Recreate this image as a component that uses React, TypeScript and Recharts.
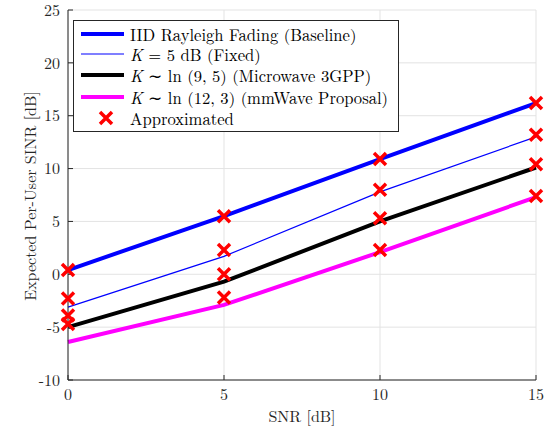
import React from 'react';
import { ComposedChart, Line, XAxis, YAxis, CartesianGrid } from 'recharts';

// SNR points (dB)
const snr = [0, 5, 10, 15];

// simulated curves
const iidRayleigh = [0.4, 5.5, 10.9, 16.2];
const kFixed = [-3.1, 1.7, 7.8, 13.0];
const kMicrowave = [-5.0, -0.7, 5.0, 10.1];
const kMmWave = [-6.4, -2.9, 2.1, 7.3];

// approximation markers
const iidApprox = [0.4, 5.5, 10.9, 16.2];
const fixedApprox = [-2.3, 2.3, 8.0, 13.2];
const microApprox = [-3.9, 0.0, 5.3, 10.4];
const mmWaveApprox = [-4.7, -2.2, 2.3, 7.4];

const xTicks = [0, 5, 10, 15];
const yTicks = [-10, -5, 0, 5, 10, 15, 20, 25];

const data = snr.map((s, i) => ({
  snr: s,
  iid: iidRayleigh[i],
  fixed: kFixed[i],
  micro: kMicrowave[i],
  mmw: kMmWave[i],
  iidA: iidApprox[i],
  fixedA: fixedApprox[i],
  microA: microApprox[i],
  mmwA: mmWaveApprox[i],
}));

const FONT = '"Latin Modern Roman", "Liberation Serif", serif';
const AXIS = '#262626';

const Cross = (props: any) => {
  const { cx, cy, index, dataKey } = props;
  if (cx == null || cy == null) return null;
  const r = 6;
  return (
    <path
      key={`${dataKey}-${index}`}
      d={`M${cx - r},${cy - r}L${cx + r},${cy + r}M${cx - r},${cy + r}L${cx + r},${cy - r}`}
      stroke="#ff0000"
      strokeWidth={3.5}
      fill="none"
    />
  );
};

const K = () => <i>K</i>;
const Sim = () => <span style={{ fontFamily: '"Liberation Serif", serif' }}>∼</span>;

const legendRows = [
  { y: 12.7, kind: 'line', color: '#0000ff', w: 4, label: <>IID Rayleigh Fading (Baseline)</> },
  { y: 33.3, kind: 'line', color: '#0000ff', w: 1.2, label: <><K /> = 5 dB (Fixed)</> },
  { y: 54, kind: 'line', color: '#000000', w: 4, label: <><K /> <Sim /> ln (9, 5) (Microwave 3GPP)</> },
  { y: 76, kind: 'line', color: '#ff00ff', w: 4, label: <><K /> <Sim /> ln (12, 3) (mmWave Proposal)</> },
  { y: 97, kind: 'cross', color: '#ff0000', w: 3.5, label: <>Approximated</> },
];

const ChartLegend = () => (
  <div
    style={{
      position: 'absolute',
      left: 73,
      top: 20,
      width: 326,
      height: 112,
      boxSizing: 'border-box',
      border: `1px solid ${AXIS}`,
      background: '#fff',
      fontFamily: FONT,
      fontSize: 16.6,
      color: '#000',
    }}
  >
    {legendRows.map((r, i) => (
      <div key={i} style={{ position: 'absolute', left: 0, top: r.y - 11, height: 22, width: '100%' }}>
        <svg width={52} height={22} style={{ position: 'absolute', left: 0, top: 0 }}>
          {r.kind === 'line' ? (
            <line x1={7} x2={50} y1={11} y2={11} stroke={r.color} strokeWidth={r.w} />
          ) : (
            <path d="M26,5L38,17M26,17L38,5" stroke={r.color} strokeWidth={r.w} fill="none" />
          )}
        </svg>
        <span style={{ position: 'absolute', left: 56, top: 0, lineHeight: '22px', whiteSpace: 'nowrap' }}>{r.label}</span>
      </div>
    ))}
  </div>
);

const tickStyle = { fontFamily: FONT, fontSize: 16, fill: AXIS };

export default function App() {
  return (
    <div style={{ position: 'absolute', left: 0, top: 0, width: 552, height: 428, background: '#fff' }}>
      <ComposedChart width={552} height={428} data={data} margin={{ top: 10, right: 16, bottom: 0, left: 0 }}>
        <CartesianGrid stroke="#e3e3e3" strokeWidth={1} />
        <XAxis
          dataKey="snr"
          type="number"
          domain={[0, 15]}
          ticks={xTicks}
          height={48}
          stroke={AXIS}
          tickSize={-5}
          tickMargin={14}
          tick={tickStyle}
          label={{
            content: () => (
              <text x={302} y={415} textAnchor="middle" dominantBaseline="central" style={{ fontFamily: FONT, fontSize: 16, fill: AXIS }}>
                SNR [dB]
              </text>
            ),
          }}
        />
        <XAxis xAxisId="top" orientation="top" type="number" domain={[0, 15]} ticks={xTicks} height={0} stroke={AXIS} tickSize={-5} tick={false} />
        <YAxis
          type="number"
          domain={[-10, 25]}
          ticks={yTicks}
          width={68}
          stroke={AXIS}
          tickSize={-5}
          tickMargin={13}
          tick={tickStyle}
          label={{
            content: () => (
              <text
                x={29}
                y={196}
                transform="rotate(-90 29 196)"
                textAnchor="middle"
                dominantBaseline="central"
                style={{ fontFamily: FONT, fontSize: 16, fill: AXIS }}
              >
                Expected Per-User SINR [dB]
              </text>
            ),
          }}
        />
        <YAxis yAxisId="right" orientation="right" type="number" domain={[-10, 25]} ticks={yTicks} width={0} stroke={AXIS} tickSize={-5} tick={false} />
        <Line dataKey="iid" stroke="#0000ff" strokeWidth={4} dot={false} isAnimationActive={false} />
        <Line dataKey="fixed" stroke="#0000ff" strokeWidth={1.2} dot={false} isAnimationActive={false} />
        <Line dataKey="micro" stroke="#000000" strokeWidth={4} dot={false} isAnimationActive={false} />
        <Line dataKey="mmw" stroke="#ff00ff" strokeWidth={4} dot={false} isAnimationActive={false} />
        <Line dataKey="iidA" stroke="none" dot={Cross} activeDot={false} isAnimationActive={false} />
        <Line dataKey="fixedA" stroke="none" dot={Cross} activeDot={false} isAnimationActive={false} />
        <Line dataKey="microA" stroke="none" dot={Cross} activeDot={false} isAnimationActive={false} />
        <Line dataKey="mmwA" stroke="none" dot={Cross} activeDot={false} isAnimationActive={false} />
      </ComposedChart>
      <ChartLegend />
    </div>
  );
}
